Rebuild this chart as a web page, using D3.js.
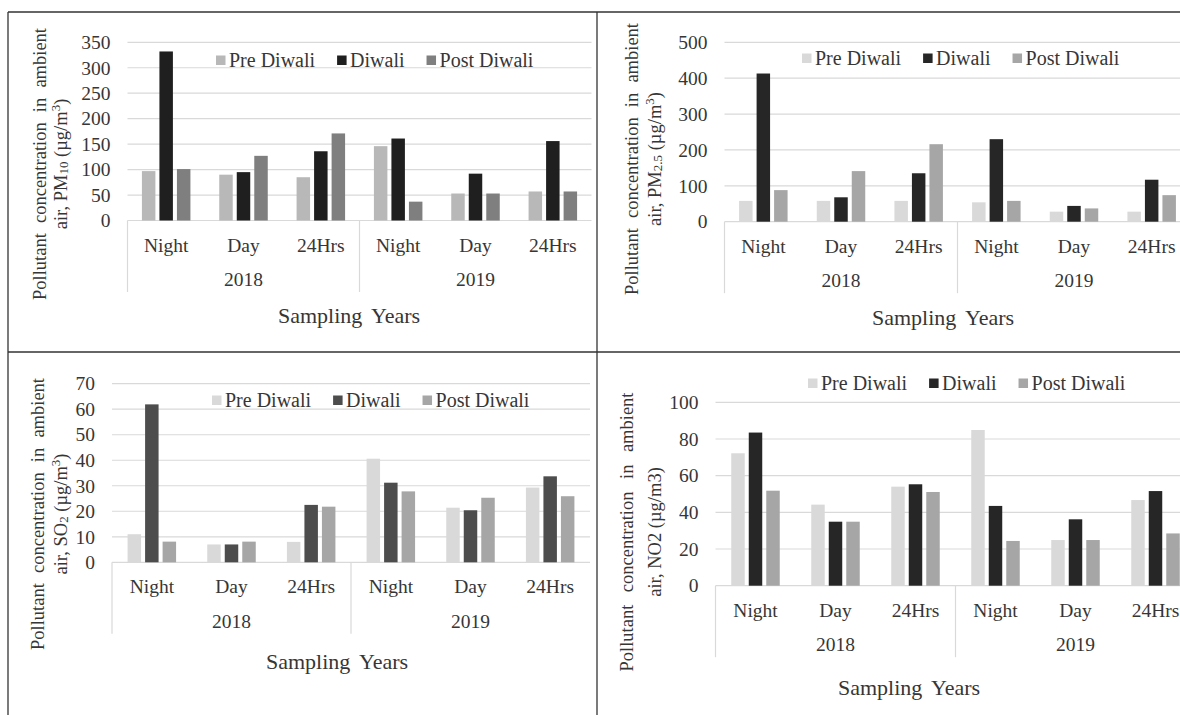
<!DOCTYPE html>
<html>
<head>
<meta charset="utf-8">
<script src="https://cdn.jsdelivr.net/npm/d3@7"></script>
<style>
  body { margin: 0; background: #fff; }
  svg text { font-family: "Liberation Serif", serif !important; }
</style>
</head>
<body>
<div id="chart"></div>
<script>
// categories
const periods = ['Night', 'Day', '24Hrs', 'Night', 'Day', '24Hrs'];
const years = ['2018', '2019'];
const seriesNames = ['Pre Diwali', 'Diwali', 'Post Diwali'];

// PM10
const pm10Pre = [97, 90, 85, 146, 53, 57];
const pm10Diwali = [332, 95, 136, 161, 92, 156];
const pm10Post = [101, 127, 171, 37, 53, 57];
const pm10Ticks = [0, 50, 100, 150, 200, 250, 300, 350];

// PM2.5
const pm25Pre = [58, 58, 58, 54, 28, 28];
const pm25Diwali = [413, 68, 135, 230, 44, 117];
const pm25Post = [88, 141, 216, 58, 37, 74];
const pm25Ticks = [0, 100, 200, 300, 400, 500];

// SO2
const so2Pre = [11, 7, 8, 40.6, 21.4, 29.3];
const so2Diwali = [61.9, 7, 22.5, 31.2, 20.4, 33.7];
const so2Post = [8.1, 8.1, 21.8, 27.8, 25.3, 25.9];
const so2Ticks = [0, 10, 20, 30, 40, 50, 60, 70];

// NO2
const no2Pre = [72.2, 44.2, 54, 84.9, 24.9, 46.7];
const no2Diwali = [83.5, 34.9, 55.3, 43.5, 36.2, 51.6];
const no2Post = [51.8, 34.9, 51.1, 24.4, 24.9, 28.5];
const no2Ticks = [0, 20, 40, 60, 80, 100];

const font = '"Liberation Serif", serif';
const textColor = '#363636';
const gridColor = '#d9d9d9';

const panels = [
  { series: [pm10Pre, pm10Diwali, pm10Post], ticks: pm10Ticks,
    colors: ['#b8b8b8', '#1f1f1f', '#7f7f7f'],
    x0: 127.5, x1: 591.5, yBase: 220.5, yTop: 42.3,
    legend: { x: 216, y: 60 }, ylab: { x1: 40, x2: 61, cy: 164, len: 272 },
    title: { x: 349, dy: 94.5 },
    line2: [['air, PM', 0], ['10', -1], [' (µg/m', 0], ['3', 1], [')', 0]] },
  { series: [pm25Pre, pm25Diwali, pm25Post], ticks: pm25Ticks,
    colors: ['#d9d9d9', '#262626', '#a6a6a6'],
    x0: 724.5, x1: 1190.5, yBase: 221.7, yTop: 42.3,
    legend: { x: 802, y: 58 }, ylab: { x1: 632, x2: 655, cy: 159, len: 272 },
    title: { x: 943, dy: 95.3 },
    line2: [['air, PM', 0], ['2.5', -1], [' (µg/m', 0], ['3', 1], [')', 0]] },
  { series: [so2Pre, so2Diwali, so2Post], ticks: so2Ticks,
    colors: ['#d9d9d9', '#4d4d4d', '#a6a6a6'],
    x0: 112, x1: 590, yBase: 562.3, yTop: 383.7,
    legend: { x: 212, y: 400 }, ylab: { x1: 38, x2: 61, cy: 514, len: 272 },
    title: { x: 337, dy: 99.4 },
    line2: [['air, SO', 0], ['2', -1], [' (µg/m', 0], ['3', 1], [')', 0]] },
  { series: [no2Pre, no2Diwali, no2Post], ticks: no2Ticks,
    colors: ['#d9d9d9', '#262626', '#a6a6a6'],
    x0: 715.5, x1: 1195.5, yBase: 585.7, yTop: 402.3,
    legend: { x: 808, y: 383 }, ylab: { x1: 627, x2: 655, cy: 532, len: 279 },
    title: { x: 909, dy: 101.3 },
    line2: [['air, NO2 (µg/m3)', 0]] }
];

const width = 1180;
const height = 715;

const svg = d3.select('#chart')
  .append('svg')
  .attr('width', width)
  .attr('height', height)
  .attr('font-family', font);

svg.append('rect').attr('width', width).attr('height', height).attr('fill', '#fff');

panels.forEach(p => {
  const g = svg.append('g');
  const yMax = p.ticks[p.ticks.length - 1];

  const x = d3.scaleBand().domain(d3.range(periods.length)).range([p.x0, p.x1]);
  const groupW = 48.5;
  const xs = d3.scaleBand().domain(seriesNames).range([0, groupW]).paddingInner(0.23);
  const off = (x.bandwidth() - groupW) / 2;
  const y = d3.scaleLinear().domain([0, yMax]).range([p.yBase, p.yTop]);

  // gridlines
  g.selectAll('.grid')
    .data(p.ticks)
    .enter()
    .append('line')
    .attr('x1', p.x0).attr('x2', p.x1)
    .attr('y1', d => y(d)).attr('y2', d => y(d))
    .attr('stroke', gridColor)
    .attr('stroke-width', 1.2);

  // y axis labels
  const ya = g.append('g')
    .attr('transform', `translate(${p.x0},0)`)
    .call(d3.axisLeft(y).tickValues(p.ticks).tickSize(0).tickPadding(17));
  ya.attr('font-family', font);
  ya.select('.domain').remove();
  ya.selectAll('text')
    .attr('font-size', 19.5)
    .attr('fill', textColor);

  // bars
  seriesNames.forEach((s, si) => {
    g.selectAll('.bar' + si)
      .data(p.series[si])
      .enter()
      .append('rect')
      .attr('x', (d, i) => x(i) + off + xs(s))
      .attr('y', d => y(d))
      .attr('width', xs.bandwidth())
      .attr('height', d => y(0) - y(d))
      .attr('fill', p.colors[si]);
  });

  // category labels
  const xa = g.append('g')
    .attr('transform', `translate(0,${p.yBase})`)
    .call(d3.axisBottom(x).tickFormat(i => periods[i]).tickSize(0).tickPadding(0));
  xa.attr('font-family', font);
  xa.select('.domain').remove();
  xa.selectAll('text')
    .attr('y', 24.5)
    .attr('dy', null)
    .attr('dominant-baseline', 'central')
    .attr('font-size', 19.5)
    .attr('fill', textColor);

  // year labels and separators
  const half = x.bandwidth() * 3;
  g.selectAll('.year')
    .data(years)
    .enter()
    .append('text')
    .attr('x', (d, i) => p.x0 + half * i + half / 2)
    .attr('y', p.yBase + 59)
    .attr('text-anchor', 'middle')
    .attr('dominant-baseline', 'central')
    .attr('font-size', 19.5)
    .attr('fill', textColor)
    .text(d => d);

  g.selectAll('.sep')
    .data([0, 1])
    .enter()
    .append('line')
    .attr('x1', d => p.x0 + half * d).attr('x2', d => p.x0 + half * d)
    .attr('y1', p.yBase).attr('y2', p.yBase + 71.5)
    .attr('stroke', gridColor)
    .attr('stroke-width', 1.2);

  // x title
  g.append('text')
    .attr('x', p.title.x)
    .attr('y', p.yBase + p.title.dy)
    .attr('text-anchor', 'middle')
    .attr('dominant-baseline', 'central')
    .attr('font-size', 22)
    .attr('fill', textColor)
    .attr('word-spacing', 4)
    .text('Sampling Years');

  // y title, two lines, first one justified
  const l1 = g.append('text')
    .attr('transform', `translate(${p.ylab.x1},${p.ylab.cy}) rotate(-90)`)
    .attr('text-anchor', 'middle')
    .attr('dominant-baseline', 'central')
    .attr('font-size', 18.5)
    .attr('fill', textColor)
    .text('Pollutant concentration in ambient');
  const nat = l1.node().getComputedTextLength();
  l1.attr('word-spacing', Math.max(0, (p.ylab.len - nat) / 3));

  const l2 = g.append('text')
    .attr('transform', `translate(${p.ylab.x2},${p.ylab.cy}) rotate(-90)`)
    .attr('text-anchor', 'middle')
    .attr('dominant-baseline', 'central')
    .attr('font-size', 18.5)
    .attr('fill', textColor);
  p.line2.forEach(([t, k]) => {
    const ts = l2.append('tspan').text(t);
    if (k === -1) ts.attr('font-size', 13).attr('baseline-shift', '-22%');
    if (k === 1) ts.attr('font-size', 13).attr('baseline-shift', '45%');
  });

  // legend
  let lx = p.legend.x;
  seriesNames.forEach((s, si) => {
    g.append('rect')
      .attr('x', lx).attr('y', p.legend.y - 4.5)
      .attr('width', 9.5).attr('height', 9.5)
      .attr('fill', p.colors[si]);
    const t = g.append('text')
      .attr('x', lx + 13)
      .attr('y', p.legend.y)
      .attr('dominant-baseline', 'central')
      .attr('font-size', 20)
      .attr('fill', textColor)
      .text(s);
    lx = lx + 13 + t.node().getComputedTextLength() + 22;
  });
});

// panel frame
const frame = [
  [8, 12, 1180, 12],
  [8, 12, 8, 715],
  [597, 12, 597, 715],
  [8, 352, 1180, 352]
];
svg.selectAll('.frame')
  .data(frame)
  .enter()
  .append('line')
  .attr('x1', d => d[0]).attr('y1', d => d[1])
  .attr('x2', d => d[2]).attr('y2', d => d[3])
  .attr('stroke', '#333')
  .attr('stroke-width', 1.3);
</script>
</body>
</html>
